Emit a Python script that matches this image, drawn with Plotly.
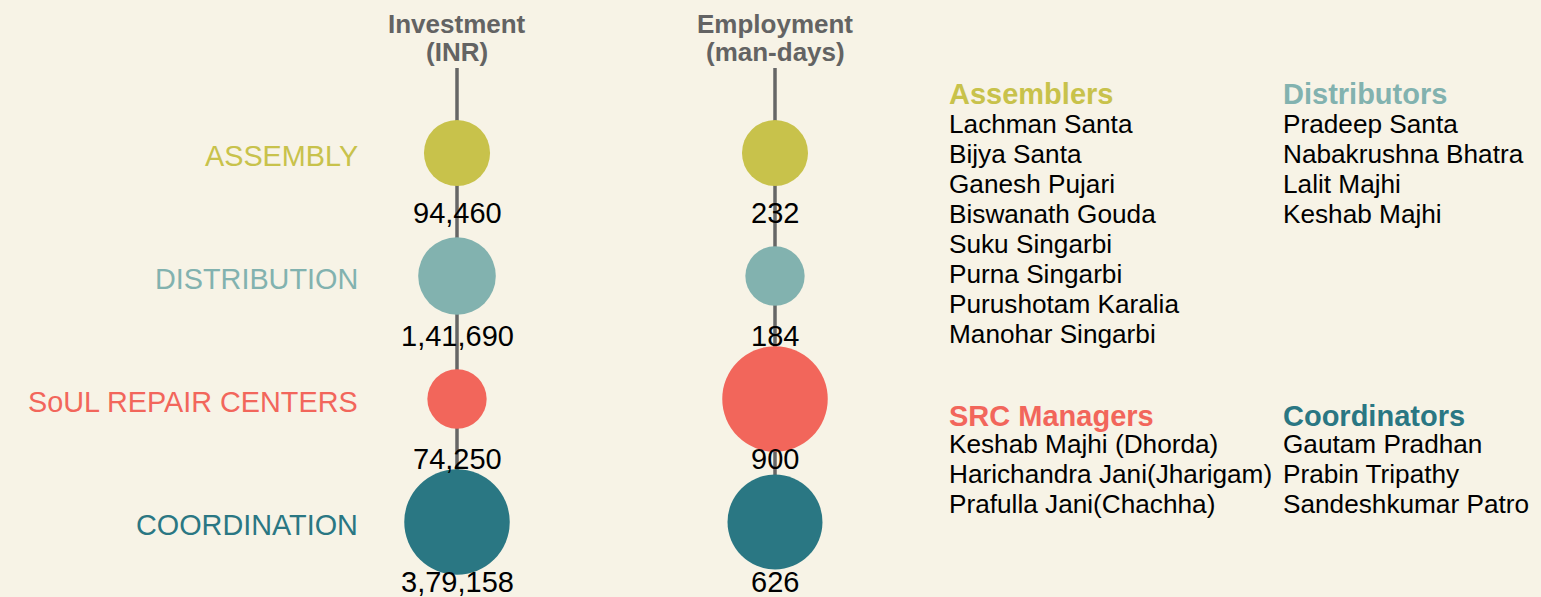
import math
import plotly.graph_objects as go

# ---------------- data ----------------
categories = ["ASSEMBLY", "DISTRIBUTION", "SoUL REPAIR CENTERS", "COORDINATION"]
investment_inr = [94460, 141690, 74250, 379158]
employment_mandays = [232, 184, 900, 626]
metric_titles = [["Investment", "(INR)"], ["Employment", "(man-days)"]]

group_titles = ["Assemblers", "Distributors", "SRC Managers", "Coordinators"]
assemblers = ["Lachman Santa", "Bijya Santa", "Ganesh Pujari", "Biswanath Gouda",
              "Suku Singarbi", "Purna Singarbi", "Purushotam Karalia", "Manohar Singarbi"]
distributors = ["Pradeep Santa", "Nabakrushna Bhatra", "Lalit Majhi", "Keshab Majhi"]
src_managers = ["Keshab Majhi (Dhorda)", "Harichandra Jani(Jharigam)", "Prafulla Jani(Chachha)"]
coordinators = ["Gautam Pradhan", "Prabin Tripathy", "Sandeshkumar Patro"]

# ---------------- style ----------------
W, H = 1541, 597
BG = "#F7F3E6"
COLORS = ["#C8C24B", "#82B2AF", "#F2665B", "#2A7783"]
LINE_COLOR = "#666666"
HEAD_COLOR = "#636363"
FONT = "Liberation Sans, Arial, sans-serif"
SIZE_MIN, SIZE_MAX = 59.3, 105.5

COL_PX = [457, 775]      # pixel x of the two metric columns
ROW0_PX, ROW_STEP = 153, 123


def indian_format(n):
    s = str(int(n))
    if len(s) <= 3:
        return s
    head, tail = s[:-3], s[-3:]
    parts = []
    while len(head) > 2:
        parts.insert(0, head[-2:])
        head = head[:-2]
    if head:
        parts.insert(0, head)
    return ",".join(parts) + "," + tail


def log_size(values):
    lo, hi = min(values), max(values)
    span = math.log(hi / lo)
    return [SIZE_MIN + (SIZE_MAX - SIZE_MIN) * math.log(v / lo) / span for v in values]


rows = list(range(len(categories)))
px_per_x = COL_PX[1] - COL_PX[0]
x_range = [-COL_PX[0] / px_per_x, (W - COL_PX[0]) / px_per_x]
y_range = [(H - ROW0_PX) / ROW_STEP, -ROW0_PX / ROW_STEP]
line_top = (68 - ROW0_PX) / ROW_STEP

fig = go.Figure()
metrics = [investment_inr, employment_mandays]

# vertical stems
for ci in range(2):
    fig.add_trace(go.Scatter(
        x=[ci, ci], y=[line_top, rows[-1]], mode="lines",
        line=dict(color=LINE_COLOR, width=3.5), hoverinfo="skip", showlegend=False))

# bubbles
for ci, vals in enumerate(metrics):
    fig.add_trace(go.Scatter(
        x=[ci] * len(vals), y=rows, mode="markers",
        marker=dict(size=log_size(vals), color=COLORS, opacity=1, line=dict(width=0)),
        hoverinfo="skip", showlegend=False))

ann = []
# value labels
for ci, vals in enumerate(metrics):
    for r, v in zip(rows, vals):
        ann.append(dict(x=ci, y=r, xref="x", yref="y", text=indian_format(v),
                        showarrow=False, yshift=-60, xanchor="center", yanchor="middle",
                        font=dict(family=FONT, size=29, color="#000000")))

# column headers
for ci, (l1, l2) in enumerate(metric_titles):
    for txt, ypx in ((l1, 24), (l2, 52.5)):
        ann.append(dict(x=ci, y=1 - ypx / H, xref="x", yref="paper", text="<b>%s</b>" % txt,
                        showarrow=False, xanchor="center", yanchor="middle",
                        font=dict(family=FONT, size=26, color=HEAD_COLOR)))

# category labels
for r, (cat, col) in enumerate(zip(categories, COLORS)):
    ann.append(dict(x=360 / W, y=r, xref="paper", yref="y", text=cat, showarrow=False,
                    yshift=-3, xanchor="right", yanchor="middle",
                    font=dict(family=FONT, size=28.8, color=col)))

# people lists
groups = [(assemblers, 947, 94.5, 123.5), (distributors, 1281, 94.5, 123.5),
          (src_managers, 947, 416, 443.5), (coordinators, 1281, 416, 443.5)]
for (names, xpx, hy, ny), title, col in zip(groups, group_titles, COLORS):
    ann.append(dict(x=xpx / W, y=1 - hy / H, xref="paper", yref="paper",
                    text="<b>%s</b>" % title, showarrow=False, xanchor="left", yanchor="middle",
                    font=dict(family=FONT, size=29, color=col)))
    for k, nm in enumerate(names):
        ann.append(dict(x=xpx / W, y=1 - (ny + 30 * k) / H, xref="paper", yref="paper",
                        text=nm, showarrow=False, xanchor="left", yanchor="middle",
                        font=dict(family=FONT, size=26.2, color="#000000")))

fig.update_layout(
    width=W, height=H, autosize=False,
    margin=dict(l=0, r=0, t=0, b=0),
    paper_bgcolor=BG, plot_bgcolor=BG,
    xaxis=dict(range=x_range, visible=False, fixedrange=True),
    yaxis=dict(range=y_range, visible=False, fixedrange=True),
    annotations=ann,
    showlegend=False,
)

fig.write_html("out.html", config={"displayModeBar": False},
               post_script="document.body.style.margin='0';document.body.style.background='%s';" % BG)
